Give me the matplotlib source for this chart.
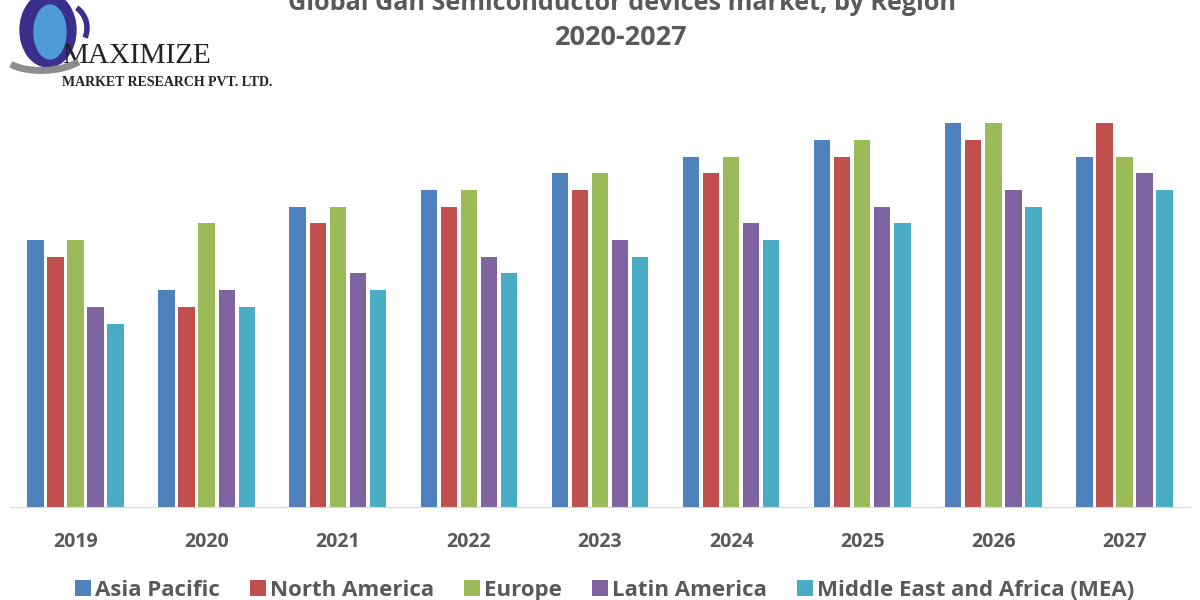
import matplotlib
matplotlib.use("Agg")
import matplotlib.pyplot as plt
import numpy as np
from matplotlib.patches import Ellipse, Arc

# data (arbitrary units)
years = ["2019", "2020", "2021", "2022", "2023", "2024", "2025", "2026", "2027"]
asia_pacific = [16, 13, 18, 19, 20, 21, 22, 23, 21]
north_america = [15, 12, 17, 18, 19, 20, 21, 22, 23]
europe = [16, 17, 18, 19, 20, 21, 22, 23, 21]
latin_america = [12, 13, 14, 15, 16, 17, 18, 19, 20]
mea = [11, 12, 13, 14, 15, 16, 17, 18, 19]

series = [
    ("Asia Pacific", asia_pacific, "#4F81BD"),
    ("North America", north_america, "#C0504D"),
    ("Europe", europe, "#9BBB59"),
    ("Latin America", latin_america, "#8064A2"),
    ("Middle East and Africa (MEA)", mea, "#4BACC6"),
]

TXT = "#595959"
plt.rcParams['font.family'] = ['Open Sans', 'DejaVu Sans']

fig = plt.figure(figsize=(12, 6), dpi=100)
ax = fig.add_axes([10 / 1200, 93 / 600, 1180 / 1200, 407 / 600])

x = np.arange(len(years))
slot = 0.153
width = 0.125
for i, (name, vals, col) in enumerate(series):
    ax.bar(x + (i - 2) * slot, vals, width, color=col, label=name)

ax.set_xlim(-0.5, len(years) - 0.5)
ax.set_ylim(0, 24.4)
ax.set_yticks([])
ax.set_xticks(x)
ax.set_xticklabels(years, fontsize=14, fontweight="bold", color=TXT)
ax.tick_params(axis="x", length=0, pad=18)
for s in ["top", "right", "left"]:
    ax.spines[s].set_visible(False)
ax.spines["bottom"].set_color("#D9D9D9")

leg = fig.legend(loc="center", bbox_to_anchor=(0.504, 0.0165), ncol=5, frameon=False,
                 prop={"size": 16, "weight": "bold"}, handlelength=0.7, handleheight=0.7,
                 handletextpad=0.2, columnspacing=1.35)
for t in leg.get_texts():
    t.set_color(TXT)

# title, cut at the top like the source image
fig.text(0.518, 1 - 3 / 600, "Global Gan Semiconductor devices market, by Region", ha="center",
         va="center", fontsize=18.2, fontweight="bold", color=TXT)
fig.text(0.518, 1 - 38 / 600, "2020-2027", ha="center", va="center",
         fontsize=19.5, fontweight="bold", color=TXT)

# logo
fig.patches.append(Ellipse((48 / 1200, 1 - 30 / 600), 56 / 1200, 74 / 600,
                           transform=fig.transFigure, color="#3A2F8C", zorder=3))
fig.patches.append(Ellipse((50 / 1200, 1 - 32 / 600), 32 / 1200, 54 / 600,
                           transform=fig.transFigure, color="#4E9BD6", zorder=4))
fig.patches.append(Arc((62 / 1200, 1 - 28 / 600), 50 / 1200, 50 / 600,
                       theta1=-40, theta2=70, transform=fig.transFigure,
                       color="#3A2F8C", lw=4, zorder=2))
fig.patches.append(Arc((45 / 1200, 1 - 50 / 600), 90 / 1200, 40 / 600, angle=25,
                       theta1=195, theta2=300, transform=fig.transFigure,
                       color="#8C8C8C", lw=5, zorder=5))
fig.text(62 / 1200, 1 - 56 / 600, "MAXIMIZE", family="Liberation Serif", fontsize=21,
         color="#222222", va="center", ha="left")
fig.text(62 / 1200, 1 - 83 / 600, "MARKET RESEARCH PVT. LTD.", family="Liberation Serif",
         fontsize=10, fontweight="bold", color="#222222", va="center", ha="left")

fig.savefig("out.png", dpi=100)
